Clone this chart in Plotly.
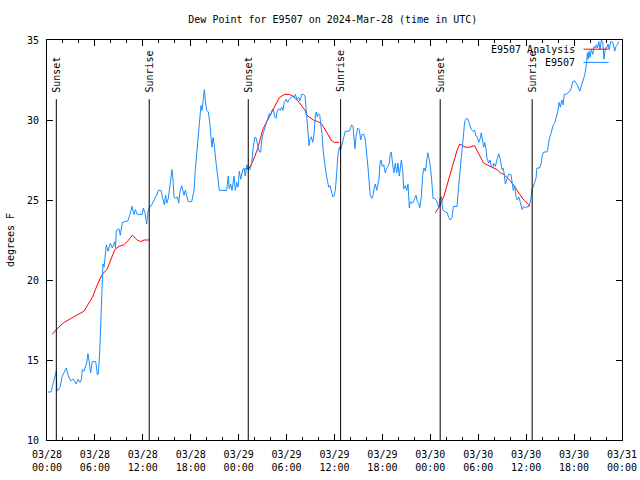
import pandas as pd
import plotly.graph_objects as go

START = pd.Timestamp("2024-03-28 00:00")

# Observed dew point (hours after 2024-03-28 00:00 UTC, degrees F)
obs_hours = [0.13, 0.5, 0.75, 1.0, 1.16, 1.25, 1.38, 1.63, 1.92, 2.13, 2.42, 2.67, 2.97, 3.29, 3.67, 3.88,
             4.13, 4.3, 4.42, 4.63, 4.97, 5.13, 5.3, 5.47, 5.67, 6.1, 6.3, 6.42, 6.6, 6.72, 6.89, 7.01,
             7.14, 7.3, 7.43, 7.64, 7.93, 8.18, 8.48, 8.58, 8.68, 9.02, 9.18, 9.43, 10.14, 10.39, 10.64,
             10.89, 11.06, 11.31, 11.93, 12.06, 12.27, 12.48, 12.65, 12.81,
             13.11, 13.4, 13.74, 13.94, 14.28, 14.4, 14.56, 14.69, 14.86, 14.99, 15.19, 15.31, 15.49,
             15.65, 15.78, 15.9, 16.03, 16.32, 16.49, 16.65, 16.87, 16.99, 17.16, 17.32, 17.49, 17.69,
             18.12, 18.24, 18.41, 18.57, 18.82, 19.0, 19.16, 19.28, 19.41, 19.57, 19.7, 19.82, 20.0,
             20.2, 20.37, 20.54, 20.66, 20.79, 20.95, 21.13, 21.33, 21.45, 21.58, 22.5, 22.7, 22.83,
             23.0, 23.17, 23.42, 23.58, 23.75, 23.92, 24.08,
             24.26, 24.51, 24.67, 24.83, 25.04, 25.21, 25.42, 25.63, 25.83, 26.01, 26.17, 26.3, 26.42,
             26.59, 26.76, 26.89, 27.09, 27.34, 27.51, 27.67, 27.84, 28.01, 28.17, 28.34, 28.51, 28.68,
             28.84, 29.01, 29.18, 29.39, 29.55, 29.71, 29.93, 30.14, 30.34, 30.55, 30.77, 30.93, 31.09,
             31.3, 31.52, 31.68, 31.89, 32.14, 32.31, 32.43, 32.56, 32.68, 32.81, 32.93, 33.1, 33.27,
             33.43, 33.6, 33.72, 33.85, 33.97, 34.15, 34.31, 34.44, 34.6, 34.78, 34.94, 35.1, 35.28,
             35.44, 35.6, 35.78, 35.94, 36.1, 36.28, 36.4, 36.6, 36.75,
             36.9, 37.1, 37.35, 37.85, 37.98, 38.16, 38.32, 38.44, 38.57, 38.69, 38.9, 39.1, 39.28,
             39.44, 39.69, 39.86, 40.03, 40.2, 40.36, 40.48, 40.66, 40.82, 40.99, 41.11, 41.29, 41.45,
             41.57, 41.7, 41.82, 41.99, 42.16, 42.36, 42.54, 42.7, 42.86, 42.99, 43.11, 43.29, 43.45,
             43.61, 43.79, 43.95, 44.11, 44.37, 44.54, 44.67, 44.87, 45.04, 45.2, 45.37, 45.49, 45.62,
             45.87, 46.04, 46.21, 46.37, 46.55, 46.67, 46.87, 47.05, 47.21, 47.38, 47.55, 47.68, 47.84,
             48.0, 48.17, 48.34, 48.5, 48.71, 48.92, 49.05, 49.21, 49.38, 49.55, 49.71, 50.13, 50.3,
             50.5, 50.71, 50.88, 51.34, 51.47, 51.63, 51.84, 52.05, 52.18, 52.3, 52.5, 52.71, 52.88,
             53.13, 53.34, 53.55, 53.72, 53.88, 54.05, 54.22, 54.38, 54.56, 54.68, 54.81, 54.97, 55.1,
             55.31, 55.47, 55.64, 55.81, 55.94, 56.14, 56.35, 56.56, 56.76, 56.98, 57.1, 57.23, 57.39,
             57.6, 57.81, 58.1, 58.23, 58.39, 58.57, 58.73, 58.9, 59.07, 59.24, 59.36, 59.49, 59.7,
             59.9, 60.07, 60.24, 60.4, 60.57, 60.73, 60.86, 61.07, 61.23, 61.35, 61.69, 61.89, 62.02,
             62.19, 62.6, 62.73, 62.86, 63.07, 63.24, 63.4, 63.58, 63.74, 63.87, 63.99, 64.12, 64.28,
             64.46, 64.62, 64.78, 64.99, 65.24, 65.46, 65.66, 65.83, 66.08, 66.28, 66.49, 66.71, 66.91,
             67.12, 67.33, 67.46, 67.58, 67.66, 67.75, 67.87, 68.0, 68.16, 68.34, 68.5, 68.67, 68.79,
             68.92, 69.1, 69.25, 69.41, 69.59, 69.75, 69.91, 70.09, 70.25, 70.41, 70.58, 70.75, 70.91,
             71.09, 71.25, 71.41, 71.58]
obs_values = [13.0, 13.0, 13.5, 14.0, 14.3, 13.1, 13.1, 13.3, 14.0, 14.2, 14.5, 14.0, 13.7, 13.8, 13.5, 13.8,
              13.6, 13.75, 14.4, 14.3, 14.8, 15.4, 14.8, 14.2, 14.9, 14.9, 14.1, 14.1, 15.5, 17.3, 19.8, 21.0,
              20.8, 21.8, 22.2, 21.8, 22.3, 22.0, 22.4, 22.0, 23.1, 23.2, 22.8, 23.6, 23.7, 24.1, 24.6,
              24.1, 24.4, 24.1, 24.1, 24.5, 24.2, 23.5, 24.3, 24.5,
              24.7, 25.0, 25.3, 25.6, 25.6, 25.3, 25.0, 24.7, 25.3, 24.8, 25.1, 25.6, 26.25,
              26.9, 26.25, 25.2, 25.1, 25.2, 24.8, 25.5, 25.9, 25.6, 25.3, 25.6, 25.2, 24.9,
              24.9, 25.2, 25.6, 26.9, 28.3, 29.6, 30.7, 30.9, 30.6, 31.5, 31.9, 31.25, 30.6,
              30.5, 29.9, 28.9, 28.3, 28.9, 28.4, 27.5, 26.6, 25.9, 25.6, 25.6, 26.5, 25.7,
              26.0, 25.6, 26.5, 25.6, 26.1, 25.8, 26.8,
              26.3, 26.9, 27.0, 26.5, 27.2, 26.9, 26.9, 27.3, 28.3, 28.9, 28.9, 28.6, 28.2,
              28.0, 28.0, 28.75, 29.2, 29.6, 29.8, 30.0, 30.4, 30.3, 30.6, 30.7, 30.2, 30.1,
              30.6, 30.7, 30.6, 30.8, 30.6, 31.1, 31.3, 31.1, 31.3, 31.4, 31.5, 31.4, 31.6,
              31.3, 31.4, 31.2, 31.6, 31.6, 31.5, 30.8, 30.0, 28.75, 28.4, 28.8, 28.95, 28.6,
              29.1, 30.3, 30.5, 30.2, 30.4, 30.3, 29.8, 29.1, 28.0, 27.1, 26.7, 26.25, 25.8,
              25.9, 25.6, 25.2, 25.25, 25.6, 26.7, 27.7, 28.3, 28.1,
              28.4, 28.9, 29.3, 29.3, 29.5, 29.7, 29.6, 28.96, 28.2, 28.96, 29.5, 29.4, 28.75,
              29.1, 29.1, 28.75, 28.0, 27.0, 26.0, 25.3, 25.1, 25.3, 25.8, 26.0, 25.6, 25.9,
              26.3, 27.3, 27.5, 27.1, 27.2, 26.7, 27.0, 27.1, 27.3, 27.9, 28.0, 27.2, 26.7,
              27.3, 26.7, 27.3, 26.5, 27.5, 26.9, 25.7, 25.9, 25.6, 26.0, 24.5, 24.9, 24.8,
              24.85, 25.1, 25.3, 24.9, 24.8, 24.5, 25.2, 26.6, 27.0, 26.8, 27.5, 27.95, 27.6,
              27.1, 26.25, 25.1, 25.1, 25.0, 24.8, 24.5, 25.1, 25.2, 24.4, 24.3, 24.2, 23.9,
              23.75, 23.9, 24.6, 24.6, 25.4, 26.45, 27.5, 28.5, 29.4, 29.9, 30.1, 30.05, 29.8,
              29.4, 29.3, 29.35, 29.0, 28.95, 28.6, 28.8, 29.2, 28.5, 28.3, 28.6, 28.2, 27.6,
              27.3, 27.5, 27.1, 27.0, 27.3, 27.1, 27.6, 27.9, 27.55, 26.9, 27.0, 26.7, 26.0,
              26.3, 26.6, 26.6, 26.0, 25.6, 25.9, 25.2, 25.0, 25.2, 24.9, 24.6, 24.4, 24.6,
              24.5, 24.6, 24.55, 24.7, 25.0, 25.7, 25.8, 26.1, 26.35, 27.0, 27.0, 27.3, 27.8,
              28.0, 28.0, 28.25, 28.75, 29.1, 29.5, 29.7, 29.8, 30.1, 30.3, 30.6, 31.1, 30.8,
              31.25, 30.95, 31.6, 31.6, 31.7, 31.8, 32.0, 32.4, 32.45, 32.3, 32.1, 31.8, 32.1,
              32.4, 32.8, 33.2, 33.6, 34.2, 33.8, 34.3, 33.9, 34.4, 34.1, 34.6, 34.5, 34.7,
              34.5, 34.9, 34.4, 35.0, 34.85, 33.8, 34.5, 34.5, 34.75, 34.4, 34.9, 34.9, 34.75,
              34.3, 34.6, 34.7, 34.9]

# Analysis dew point (three night-time segments, None = gap)
ana_hours = [0.66, 1.16, 2.13, 2.97, 3.79, 4.63, 5.17, 5.67, 6.3, 6.85, 7.55, 7.98, 8.48, 9.02, 9.64,
             10.14, 10.68, 11.31, 11.73, 12.15, 12.77, None,
             24.71, 25.33, 25.76, 26.08, 26.38, 26.67, 27.01, 27.42, 27.84, 28.26, 28.68, 29.09, 29.72,
             30.34, 30.77, 31.18, 31.59, 32.02, 32.31, 32.52, 32.85, 33.35, 33.9, 34.31, 34.72, 35.15,
             35.56, 35.98, 36.6, None,
             48.63, 49.25, 49.68, 50.09, 50.5, 50.93, 51.34, 51.68, 52.05, 52.38, 52.96, 53.55, 53.84,
             54.26, 54.68, 55.1, 55.51, 55.94, 56.35, 56.76, 57.19, 57.6, 58.02, 58.45, 58.85, 59.27,
             59.7, 60.11, 60.52]
ana_values = [16.6, 16.9, 17.35, 17.6, 17.85, 18.05, 18.5, 18.9, 19.7, 20.3, 20.7, 21.2, 21.9, 22.1, 22.2,
              22.45, 22.8, 22.5, 22.4, 22.5, 22.5, None,
              26.9, 27.0, 27.4, 27.8, 28.2, 28.75, 29.4, 29.8, 30.2, 30.7, 31.1, 31.4, 31.6,
              31.6, 31.5, 31.3, 31.1, 30.8, 30.6, 30.3, 30.2, 30.0, 29.9, 29.8, 29.5, 29.1,
              28.75, 28.6, 28.6, None,
              24.2, 24.7, 25.2, 25.9, 26.6, 27.4, 28.1, 28.5, 28.4, 28.3, 28.3, 28.4, 28.1,
              27.7, 27.3, 27.2, 27.1, 27.0, 26.9, 26.7, 26.6, 26.4, 26.2, 25.9, 25.6, 25.3,
              25.0, 24.8, 24.6]

sun_labels = ["Sunset", "Sunrise", "Sunset", "Sunrise", "Sunset", "Sunrise"]
sun_times = ["2024-03-28 01:10", "2024-03-28 12:48", "2024-03-29 01:12",
             "2024-03-29 12:46", "2024-03-30 01:14", "2024-03-30 12:45"]

FONT = "DejaVu Sans Mono"


def to_time(hours):
    return [None if h is None else START + pd.Timedelta(hours=h) for h in hours]


fig = go.Figure()
fig.add_trace(go.Scatter(x=to_time(ana_hours), y=ana_values, mode="lines", name="E9507 Analysis",
                         line=dict(color="#ff0000", width=1), connectgaps=False))
fig.add_trace(go.Scatter(x=to_time(obs_hours), y=obs_values, mode="lines", name="E9507",
                         line=dict(color="#1a8cff", width=1)))

for lab, t in zip(sun_labels, sun_times):
    fig.add_shape(type="line", xref="x", yref="y", x0=t, x1=t, y0=10, y1=31.3,
                  line=dict(color="black", width=1))
    fig.add_annotation(x=t, y=31.6, xref="x", yref="y", text=lab, textangle=-90,
                       showarrow=False, xanchor="center", yanchor="bottom",
                       font=dict(family=FONT, size=10, color="black"))

# gnuplot-style legend: text right, sample line to its right
legend_items = [("E9507 Analysis", "#ff0000", 0.977), ("E9507", "#1a8cff", 0.944)]
for name, color, yp in legend_items:
    fig.add_annotation(x=0.922, y=yp, xref="paper", yref="paper", text=name, showarrow=False,
                       xanchor="right", yanchor="middle", font=dict(family=FONT, size=10, color="black"))
    fig.add_shape(type="line", xref="paper", yref="paper", x0=0.933, x1=0.977, y0=yp, y1=yp,
                  line=dict(color=color, width=1))

fig.update_layout(
    width=640, height=480,
    margin=dict(l=47, r=18, t=40, b=40),
    paper_bgcolor="white", plot_bgcolor="white",
    showlegend=False,
    font=dict(family=FONT, size=10, color="black"),
    title=dict(text="Dew Point for E9507 on 2024-Mar-28 (time in UTC)", x=0.52, xanchor="center",
               y=0.96, yanchor="middle", font=dict(family=FONT, size=10, color="black")),
)
fig.update_xaxes(
    type="date", range=["2024-03-28 00:00", "2024-03-31 00:00"], automargin=False,
    tick0="2024-03-28 00:00", dtick=6 * 3600 * 1000, tickformat="%m/%d<br>%H:%M",
    ticks="inside", ticklen=6, tickcolor="black", showgrid=False, zeroline=False,
    showline=True, linecolor="black", linewidth=1, mirror="allticks",
    minor=dict(dtick=2 * 3600 * 1000, ticks="inside", ticklen=3, tickcolor="black", showgrid=False),
    tickfont=dict(family=FONT, size=10, color="black"), ticklabelstandoff=5,
)
fig.update_yaxes(
    range=[10, 35], dtick=5, ticks="inside", ticklen=6, tickcolor="black", showgrid=False,
    zeroline=False, showline=True, linecolor="black", linewidth=1, mirror="allticks", automargin=False,
    title=dict(text="degrees F", font=dict(family=FONT, size=10, color="black"), standoff=10),
    tickfont=dict(family=FONT, size=10, color="black"), ticklabelstandoff=5,
)

fig.write_html("out.html", config={"displayModeBar": False},
               post_script="document.body.style.margin='0';")
